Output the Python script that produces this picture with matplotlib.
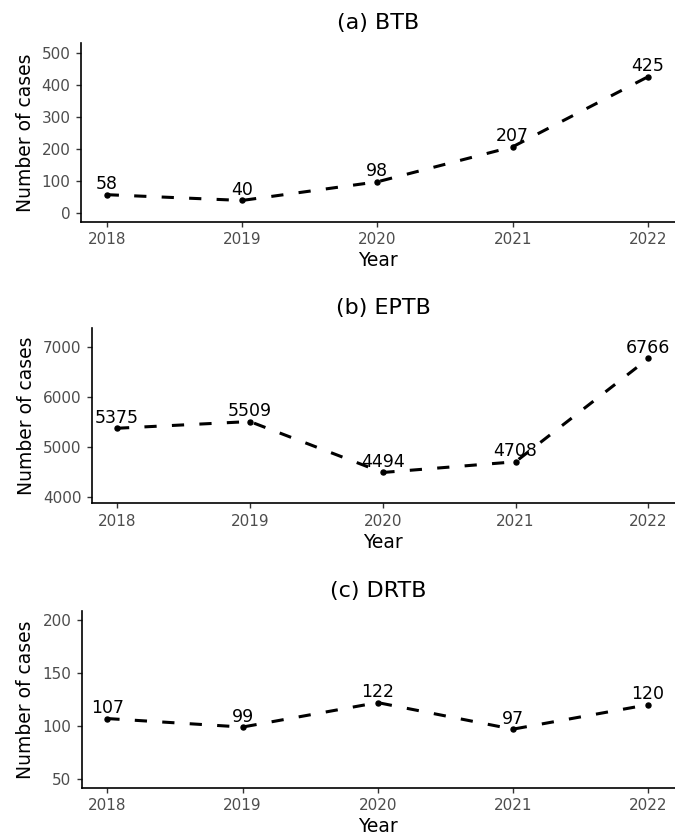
import matplotlib
matplotlib.use("Agg")
import matplotlib.pyplot as plt

plt.rcParams['font.family'] = ['DejaVu Sans']

years = [2018, 2019, 2020, 2021, 2022]
btb = [58, 40, 98, 207, 425]
eptb = [5375, 5509, 4494, 4708, 6766]
drtb = [107, 99, 122, 97, 120]

titles = ["(a) BTB", "(b) EPTB", "(c) DRTB"]
series = [btb, eptb, drtb]
yticks = [[0, 100, 200, 300, 400, 500],
          [4000, 5000, 6000, 7000],
          [50, 100, 150, 200]]
ylims = [(-26, 530), (3880, 7378), (42, 208)]

# axes boxes in figure fraction [left, bottom, width, height]
boxes = [[0.120, 0.7358, 0.880, 0.2129],
         [0.1359, 0.4001, 0.8641, 0.2093],
         [0.121, 0.0611, 0.879, 0.2106]]

fig = plt.figure(figsize=(6.75, 8.39), dpi=100)

for title, vals, ticks, lim, box in zip(titles, series, yticks, ylims, boxes):
    ax = fig.add_axes(box)
    ax.plot(years, vals, color='black', lw=2.2, ls=(0, (4, 5)), zorder=2)
    ax.plot(years, vals, 'o', color='black', ms=3.6, zorder=3)
    for x, v in zip(years, vals):
        ax.annotate(str(v), (x, v), xytext=(0, 4), textcoords='offset points',
                    ha='center', va='baseline', fontsize=12.5, color='black')
    ax.set_xlim(2017.81, 2022.2)
    ax.set_ylim(*lim)
    ax.set_xticks(years)
    ax.set_yticks(ticks)
    ax.set_title(title, fontsize=16, pad=10)
    ax.set_xlabel("Year", fontsize=13.5, labelpad=3)
    ax.set_ylabel("Number of cases", fontsize=13.5, labelpad=5)
    for s in ['top', 'right']:
        ax.spines[s].set_visible(False)
    for s in ['left', 'bottom']:
        ax.spines[s].set_linewidth(1.2)
        ax.spines[s].set_color('black')
    ax.tick_params(axis='both', labelsize=11, labelcolor='#4d4d4d',
                   color='#333333', length=3.5, width=1, pad=4)

fig.savefig("out.png", dpi=100)
